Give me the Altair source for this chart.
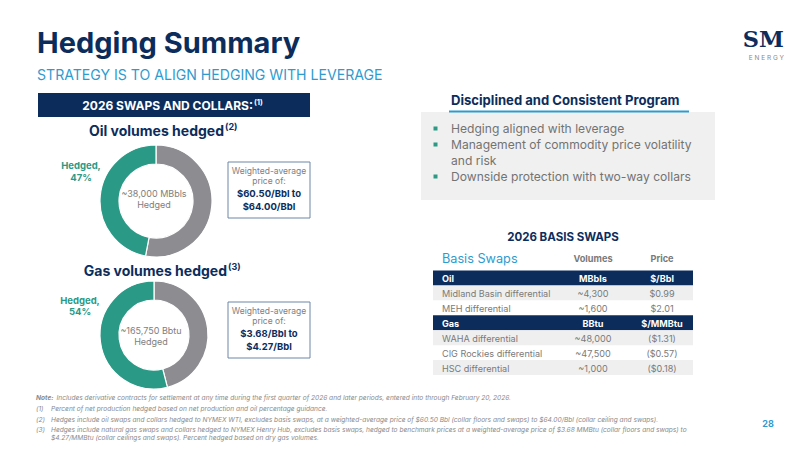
import altair as alt
import pandas as pd

# ---------------- data ----------------
status = ["Unhedged", "Hedged"]
oil_pct = [53, 47]
gas_pct = [46, 54]
oil_volume_text = ["~38,000 MBbls", "Hedged"]
gas_volume_text = ["~165,750 Bbtu", "Hedged"]
oil_price_text = ["Weighted-average", "price of:", "$60.50/Bbl to", "$64.00/Bbl"]
gas_price_text = ["Weighted-average", "price of:", "$3.68/Bbl to", "$4.27/Bbl"]

bullets = ["Hedging aligned with leverage",
           "Management of commodity price volatility",
           "and risk",
           "Downside protection with two-way collars"]
bullet_flags = [True, True, False, True]

table_cols = ["Basis Swaps", "Volumes", "Price"]
row_labels = ["Oil", "Midland Basin differential", "MEH differential", "Gas",
              "WAHA differential", "CIG Rockies differential", "HSC differential"]
row_volumes = ["MBbls", "~4,300", "~1,600", "BBtu", "~48,000", "~47,500", "~1,000"]
row_prices = ["$/Bbl", "$0.99", "$2.01", "$/MMBtu", "($1.31)", "($0.57)", "($0.18)"]
row_kinds = ["header", "stripe", "plain", "header", "stripe", "plain", "stripe"]

note_heads = ["Note:", "(1)", "(2)", "(3)", ""]
note_texts = [
    "Includes derivative contracts for settlement at any time during the first quarter of 2026 and later periods, entered into through February 20, 2026.",
    "Percent of net production hedged based on net production and oil percentage guidance.",
    "Hedges include oil swaps and collars hedged to NYMEX WTI, excludes basis swaps, at a weighted-average price of $60.50 Bbl (collar floors and swaps) to $64.00/Bbl (collar ceiling and swaps).",
    "Hedges include natural gas swaps and collars hedged to NYMEX Henry Hub, excludes basis swaps, hedged to benchmark prices at a weighted-average price of $3.68 MMBtu (collar floors and swaps) to",
    "$4.27/MMBtu (collar ceilings and swaps). Percent hedged based on dry gas volumes.",
]

# ---------------- style ----------------
NAVY = "#0C2D5C"
TEAL = "#2A9A86"
GREY = "#8D8D91"
BLUE = "#2E9BCF"
TXT = "#737373"
FONT = "Inter"
M = 8  # page margin

one = pd.DataFrame({"k": [0]})
layers = []


def text(s, x, y, size, color, weight="normal", align="left", style="normal", font=FONT, baseline="alphabetic"):
    layers.append(
        alt.Chart(one).mark_text(
            fontSize=size, color=color, fontWeight=weight, align=align,
            fontStyle=style, font=font, baseline=baseline,
        ).encode(x=alt.value(x - M), y=alt.value(y - M), text=alt.value(s))
    )


def box(x1, x2, y1, y2, fill, stroke=None, sw=0):
    kw = dict(fill=fill)
    if stroke:
        kw.update(stroke=stroke, strokeWidth=sw)
    layers.append(
        alt.Chart(one).mark_rect(**kw).encode(
            x=alt.value(x1 - M), x2=alt.value(x2 - M),
            y=alt.value(y1 - M), y2=alt.value(y2 - M))
    )


# ---------------- header ----------------
text("Hedging Summary", 37, 53, 29, NAVY, weight="bold")
text("STRATEGY IS TO ALIGN HEDGING WITH LEVERAGE", 37, 80, 14.1, BLUE)
text("SM", 784, 47, 22.5, NAVY, weight="bold", align="right", font="DejaVu Serif")
text("E N E R G Y", 784, 60, 6.5, "#8A8A8A", align="right")

box(38, 310, 93, 117, NAVY)
text("2026 SWAPS AND COLLARS:", 253, 110, 12, "white", weight="bold", align="right")
text("(1)", 254, 105, 7.5, "white", weight="bold")

# ---------------- donuts ----------------
def donut(pcts, cx, cy, r_out, r_in):
    df = pd.DataFrame({"status": status, "pct": pcts, "ord": [0, 1]})
    layers.append(
        alt.Chart(df).mark_arc(outerRadius=r_out, innerRadius=r_in, stroke="white", strokeWidth=1.2).encode(
            theta=alt.Theta("pct:Q", stack=True),
            color=alt.Color("status:N", scale=alt.Scale(domain=status, range=[GREY, TEAL]), legend=None),
            order=alt.Order("ord:Q"),
            x=alt.value(cx - M), y=alt.value(cy - M),
        )
    )


# oil
text("Oil volumes hedged", 224, 136, 14, NAVY, weight="bold", align="right")
text("(2)", 225, 130, 9, NAVY, weight="bold")
donut(oil_pct, 156, 201, 56, 37)
text("Hedged,", 81, 169, 9.5, TEAL, weight="bold", align="center")
text(f"{oil_pct[1]}%", 81, 181, 9.5, TEAL, weight="bold", align="center")
text(oil_volume_text[0], 154, 197, 9, "#7E7E7E", align="center")
text(oil_volume_text[1], 154, 208, 9, "#7E7E7E", align="center")
box(228, 310, 162, 218, "white", "#6A86AA", 1)
text(oil_price_text[0], 269, 174, 8.5, "#7E7E7E", align="center")
text(oil_price_text[1], 269, 184, 8.5, "#7E7E7E", align="center")
text(oil_price_text[2], 269, 197, 9.5, NAVY, weight="bold", align="center")
text(oil_price_text[3], 269, 210, 9.5, NAVY, weight="bold", align="center")

# gas
text("Gas volumes hedged", 227, 276, 14, NAVY, weight="bold", align="right")
text("(3)", 228, 270, 9, NAVY, weight="bold")
donut(gas_pct, 154, 335, 54, 35)
text("Hedged,", 80, 304, 9.5, TEAL, weight="bold", align="center")
text(f"{gas_pct[1]}%", 80, 315, 9.5, TEAL, weight="bold", align="center")
text(gas_volume_text[0], 151, 334, 9, "#7E7E7E", align="center")
text(gas_volume_text[1], 151, 345, 9, "#7E7E7E", align="center")
box(228, 310, 302, 358, "white", "#6A86AA", 1)
text(gas_price_text[0], 269, 314, 8.5, "#7E7E7E", align="center")
text(gas_price_text[1], 269, 324, 8.5, "#7E7E7E", align="center")
text(gas_price_text[2], 269, 337, 9.5, NAVY, weight="bold", align="center")
text(gas_price_text[3], 269, 350, 9.5, NAVY, weight="bold", align="center")

# ---------------- right: program box ----------------
text("Disciplined and Consistent Program", 451, 105, 13.1, NAVY, weight="bold")
box(421, 715, 112, 200, "#F0F0F0")
box(449, 689, 110.5, 112.5, BLUE)
for i, (line, flag) in enumerate(zip(bullets, bullet_flags)):
    yb = 133 + 16 * i
    if flag:
        box(433.5, 437.5, yb - 6.5, yb - 2.5, TEAL)
    text(line, 451, yb, 12.1, TXT)

# ---------------- right: basis swaps table ----------------
text("2026 BASIS SWAPS", 563, 241, 11.5, NAVY, weight="bold", align="center")
text(table_cols[0], 442, 263, 12.7, BLUE)
text(table_cols[1], 593, 262, 9.2, "#7A7A7A", weight="bold", align="center")
text(table_cols[2], 662, 262, 9.2, "#7A7A7A", weight="bold", align="center")

tbl = pd.DataFrame({"row": list(range(len(row_labels))), "label": row_labels,
                    "vol": row_volumes, "price": row_prices, "kind": row_kinds})
yscale = alt.Scale(domain=[0, len(row_labels)], range=[270.5 - M, 375 - M], zero=False, nice=False)
tbase = alt.Chart(tbl).transform_calculate(row_end="datum.row + 1", mid="datum.row + 0.5")

for kind, fill in [("header", NAVY), ("stripe", "#EFEFEF")]:
    layers.append(
        tbase.transform_filter(alt.datum.kind == kind).mark_rect(fill=fill).encode(
            y=alt.Y("row:Q", scale=yscale, axis=None), y2="row_end:Q",
            x=alt.value(433 - M), x2=alt.value(693 - M))
    )

for field, xpos, align in [("label", 442, "left"), ("vol", 593, "center"), ("price", 662, "center")]:
    for is_head in [True, False]:
        cond = (alt.datum.kind == "header") if is_head else (alt.datum.kind != "header")
        layers.append(
            tbase.transform_filter(cond).mark_text(
                font=FONT, fontSize=9.1, align=align, baseline="middle", dy=1,
                color="white" if is_head else "#7A7A7A",
                fontWeight="bold" if is_head else "normal",
            ).encode(y=alt.Y("mid:Q", scale=yscale, axis=None),
                     x=alt.value(xpos - M), text=f"{field}:N")
        )

# ---------------- footnotes ----------------
note_y = [400, 411, 422, 432, 440]
FN = 6.6
for head, body, yb in zip(note_heads, note_texts, note_y):
    if head == "Note:":
        text(head, 36, yb, FN, "#8A8A8A", weight="bold", style="italic")
        text(body, 56.5, yb, FN, "#8A8A8A", style="italic")
    else:
        if head:
            text(head, 36, yb, FN, "#8A8A8A", style="italic")
        text(body, 51, yb, FN, "#8A8A8A", style="italic")

text("28", 768, 427, 9, BLUE, weight="bold", align="center")

chart = alt.layer(*layers).properties(
    width=800 - 2 * M, height=450 - 2 * M, padding=0, autosize="none", background="white"
).configure_view(stroke=None)

chart.save("out.html", embed_options={"renderer": "svg", "actions": False})
